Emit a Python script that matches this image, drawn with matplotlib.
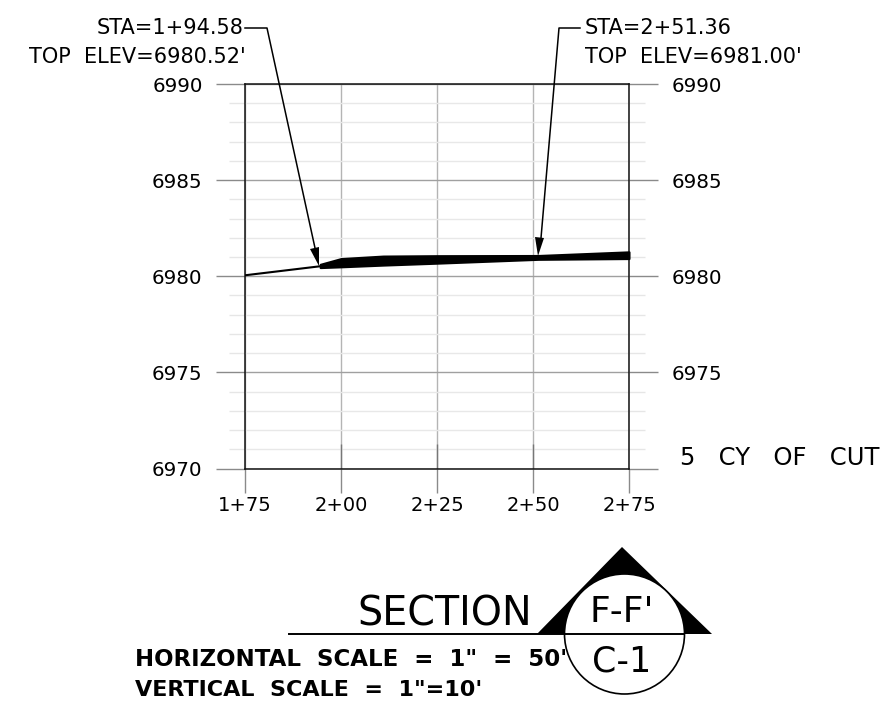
import matplotlib
matplotlib.use("Agg")
import matplotlib.pyplot as plt
from matplotlib.patches import Circle, Polygon

# Data
stations = [175, 200, 225, 250, 275]
station_labels = ["1+75", "2+00", "2+25", "2+50", "2+75"]
elev_ticks = [6970, 6975, 6980, 6985, 6990]
elev_minor = [6971, 6972, 6973, 6974, 6976, 6977, 6978, 6979,
              6981, 6982, 6983, 6984, 6986, 6987, 6988, 6989]

existing_x = [175, 194.58]
existing_y = [6980.05, 6980.52]
band_x = [194.58, 200, 211, 225, 251.36, 275]
band_top = [6980.62, 6980.92, 6981.05, 6981.07, 6981.08, 6981.27]
band_bot = [6980.45, 6980.49, 6980.58, 6980.68, 6980.88, 6980.92]

W, H = 881, 716
fig = plt.figure(figsize=(W / 100, H / 100), dpi=100)
plt.rcParams['font.family'] = 'DejaVu Sans'

# plot box, pixels from the top left of the picture
left, right, top, bottom = 245, 629, 84, 468.5
ax = fig.add_axes([left / W, 1 - bottom / H, (right - left) / W, (bottom - top) / H])
ax.set_xlim(175, 275)
ax.set_ylim(6970, 6990)

ax.set_xticks(stations)
ax.set_xticklabels(station_labels, fontsize=14, color="black")
ax.set_yticks(elev_ticks)
ax.set_yticks(elev_minor, minor=True)
ax.tick_params(axis='x', length=17, width=1, color="#8a8a8a", pad=3)
ax.tick_params(axis='y', which='major', length=21, width=1, color="#8a8a8a",
               left=True, right=True, labelleft=True, labelright=True,
               labelsize=14.3, pad=9.5)
ax.tick_params(axis='y', which='minor', length=11.5, width=1, color="#e6e6e6",
               left=True, right=True)
ax.yaxis.get_major_ticks()[0].label2.set_visible(False)
ax.grid(True, axis='x', color="#b4b4b4", lw=1)
ax.grid(True, axis='y', which='major', color="#a0a0a0", lw=1)
ax.grid(True, axis='y', which='minor', color="#e8e8e8", lw=1)
ax.set_axisbelow(True)
for s in ax.spines.values():
    s.set_color("#111111")
    s.set_linewidth(1.1)
# darker foot on the inner station lines
ax.vlines(stations[1:-1], 6970, 6971.25, color="#777777", lw=1, zorder=1.5)

ax.plot(existing_x, existing_y, color="black", lw=1.5, zorder=4, solid_capstyle='round')
ax.fill_between(band_x, band_bot, band_top, facecolor="black", edgecolor="black",
                lw=1.5, joinstyle='round', zorder=4, clip_on=False)

# overlay in pixel coordinates for the drafting notes
ov = fig.add_axes([0, 0, 1, 1], zorder=5)
ov.set_xlim(0, W)
ov.set_ylim(H, 0)
ov.axis('off')
ov.patch.set_alpha(0)

ov.text(244, 28, "STA=1+94.58", ha='right', va='center', fontsize=15)
ov.text(246, 57, "TOP  ELEV=6980.52'", ha='right', va='center', fontsize=15)
ov.text(585, 28, "STA=2+51.36", ha='left', va='center', fontsize=15)
ov.text(585, 57, "TOP  ELEV=6981.00'", ha='left', va='center', fontsize=15)

ov.plot([245, 267, 315], [28, 28, 248], color="black", lw=1.1)
ov.add_patch(Polygon([[319, 266], [310, 249], [319, 247]], closed=True, color="black", lw=0))
ov.plot([580, 559, 541], [28, 28, 238], color="black", lw=1.1)
ov.add_patch(Polygon([[538, 256], [535, 237], [544, 238]], closed=True, color="black", lw=0))

ov.text(680, 458, "5   CY   OF   CUT", ha='left', va='center', fontsize=17.5)

# section marker
ov.add_patch(Polygon([[537, 634], [622, 547], [712, 634]], closed=True, color="black", lw=0))
ov.add_patch(Circle((624.5, 634), 60, facecolor="white", edgecolor="black", lw=1.2))
ov.plot([289, 684], [634, 634], color="black", lw=1.4)
ov.text(445, 615, "SECTION", ha='center', va='center', fontsize=28.5)
ov.text(622, 612, "F-F'", ha='center', va='center', fontsize=26)
ov.text(622, 662, "C-1", ha='center', va='center', fontsize=25)
ov.text(135, 660, "HORIZONTAL  SCALE  =  1\"  =  50'", ha='left', va='center',
        fontsize=16.5, fontweight='bold')
ov.text(135, 690, "VERTICAL  SCALE  =  1\"=10'", ha='left', va='center',
        fontsize=16, fontweight='bold')

fig.savefig("out.png", dpi=100)
plt.close(fig)
